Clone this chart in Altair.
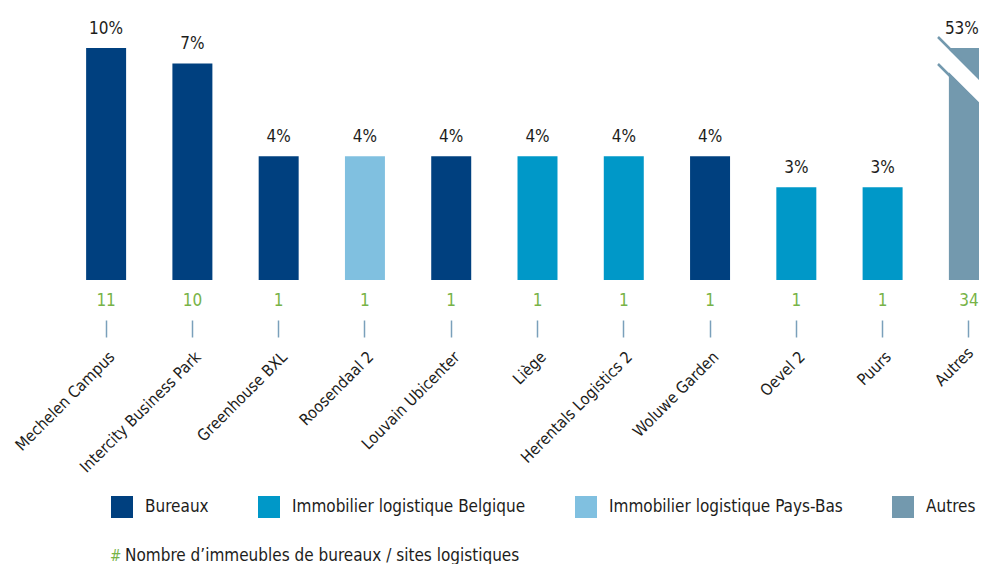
import altair as alt
import pandas as pd

categories = ["Mechelen Campus", "Intercity Business Park", "Greenhouse BXL", "Roosendaal 2",
              "Louvain Ubicenter", "Liège", "Herentals Logistics 2", "Woluwe Garden",
              "Oevel 2", "Puurs", "Autres"]
types = ["Bureaux", "Bureaux", "Bureaux", "Immobilier logistique Pays-Bas", "Bureaux",
         "Immobilier logistique Belgique", "Immobilier logistique Belgique", "Bureaux",
         "Immobilier logistique Belgique", "Immobilier logistique Belgique", "Autres"]
pct = [10, 7, 4, 4, 4, 4, 4, 4, 3, 3, 53]
# bar heights as drawn in the picture (tall bars are truncated)
drawn = [7.5, 7, 4, 4, 4, 4, 4, 4, 3, 3, 7.5]
counts = [11, 10, 1, 1, 1, 1, 1, 1, 1, 1, 34]

type_domain = ["Bureaux", "Immobilier logistique Belgique", "Immobilier logistique Pays-Bas", "Autres"]
type_colors = ["#00407f", "#0098c8", "#80c0e0", "#7399ae"]

FONT = "DejaVu Sans Condensed"
FS = 17
GREEN = "#77b347"
TXT = "#1d1d1b"

df = pd.DataFrame({"cat": categories, "type": types, "pct": pct, "h": drawn, "n": counts})
df["pct_label"] = [f"{p}%" for p in pct]

xaxis = alt.Axis(title=None, domain=False, grid=False, offset=40, tickSize=17,
                 tickColor="#7aa0bb", tickWidth=1.5, labelAngle=-45, labelAlign="right",
                 labelBaseline="middle",
                 labelPadding=alt.condition("datum.value == 'Autres'", alt.value(13), alt.value(17)),
                 labelOffset=alt.condition("datum.value == 'Autres'", alt.value(2), alt.value(6)),
                 labelFontSize=16, labelFont=FONT, labelColor=TXT, labelOverlap=False,
                 labelLimit=0)
xscale = alt.Scale(range=[0, 949], paddingInner=0.5365, paddingOuter=0.268)

bars = alt.Chart(df).mark_bar().encode(
    x=alt.X("cat:N", sort=categories, scale=xscale, axis=xaxis),
    y=alt.Y("h:Q", scale=alt.Scale(domain=[0, 7.5], nice=False, zero=True), axis=None),
    color=alt.Color("type:N", scale=alt.Scale(domain=type_domain, range=type_colors),
                    legend=alt.Legend(title=None, orient="none", legendX=48, legendY=448,
                                      direction="horizontal", columns=4, symbolType="square",
                                      symbolSize=484, symbolStrokeWidth=0, labelFontSize=FS,
                                      labelFont=FONT, labelColor=TXT, labelOffset=12,
                                      labelLimit=0, columnPadding=49)),
)

xs = alt.X("cat:N", sort=categories)

pct_text = alt.Chart(df).mark_text(baseline="alphabetic", dy=-14, fontSize=FS, font=FONT,
                                   color=TXT).encode(
    x=xs, y=alt.Y("h:Q"), text="pct_label:N").transform_filter("datum.cat != 'Autres'")
pct_text_last = alt.Chart(df).mark_text(baseline="alphabetic", dy=-14, dx=-7, fontSize=FS,
                                        font=FONT, color=TXT).encode(
    x=xs, y=alt.Y("h:Q"), text="pct_label:N").transform_filter("datum.cat == 'Autres'")

count_text = alt.Chart(df).mark_text(baseline="alphabetic", fontSize=FS, font=FONT,
                                     color=GREEN).encode(x=xs, y=alt.value(258), text="n:N")

# break mark on the truncated "Autres" bar
brk_white = alt.Chart(pd.DataFrame({"a": [0]})).mark_rule(color="white", strokeWidth=16,
                                                         strokeCap="butt").encode(
    x=alt.value(876), y=alt.value(3), x2=alt.value(940), y2=alt.value(67))
brk_lines = alt.Chart(pd.DataFrame({"x": [875, 875], "y": [-11, 16],
                                    "x2": [940, 940], "y2": [54, 81]})).mark_rule(
    color="#7399ae", strokeWidth=2.5, strokeCap="butt").encode(
    x=alt.X("x:Q", scale=None), y=alt.Y("y:Q", scale=None),
    x2="x2:Q", y2="y2:Q")

foot_hash = alt.Chart(pd.DataFrame({"t": ["#"]})).mark_text(
    align="left", baseline="alphabetic", fontSize=15, font=FONT, color=GREEN).encode(
    x=alt.value(47), y=alt.value(513), text="t:N")
foot_text = alt.Chart(pd.DataFrame({"t": ["Nombre d’immeubles de bureaux / sites logistiques"]})).mark_text(
    align="left", baseline="alphabetic", fontSize=FS, font=FONT, color=TXT).encode(
    x=alt.value(62), y=alt.value(513), text="t:N")

chart = alt.layer(bars, brk_white, brk_lines, pct_text, pct_text_last, count_text,
                  foot_hash, foot_text).properties(
    width=916, height=232,
    padding={"left": 55, "top": 40, "right": 0, "bottom": 284},
    autosize=alt.AutoSizeParams(type="none"),
    background="white",
).configure_view(stroke=None)

chart.save("out.html", embed_options={"renderer": "svg", "actions": False})
